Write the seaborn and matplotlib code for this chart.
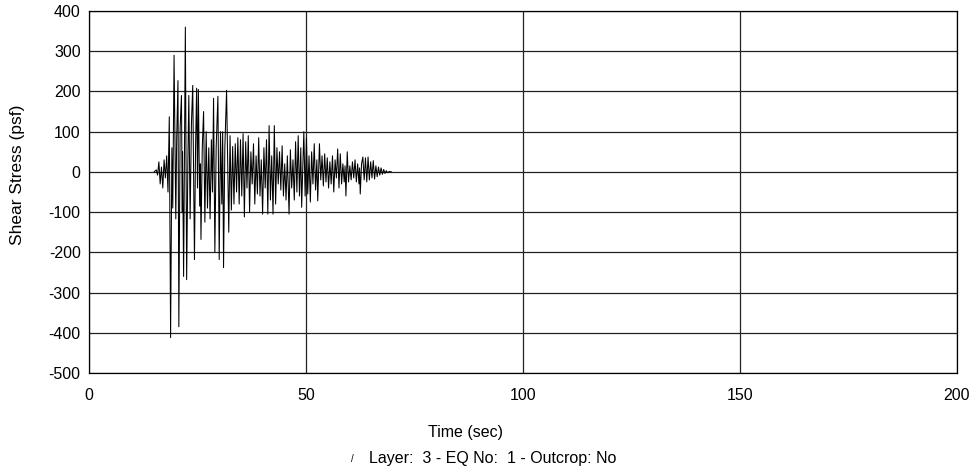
import pandas as pd
import matplotlib
matplotlib.use("Agg")
import matplotlib.pyplot as plt
import seaborn as sns

# historia de esfuerzo cortante (capa 3, sismo 1)
time_sec = [
    15.0, 15.5, 15.8, 16.1, 16.4, 16.7, 17.0, 17.3, 17.6, 17.9, 18.2, 18.5, 18.8,
    19.1, 19.3, 19.6, 20.0, 20.2, 20.5, 20.7, 21.0, 21.3, 21.5, 21.55, 21.8, 22.2,
    22.5, 22.8, 23.0, 23.3, 23.6, 23.9, 24.3, 24.55, 24.8, 25.0, 25.2, 25.5, 25.65,
    25.8, 26.1, 26.4, 26.7, 27.0, 27.3, 27.6, 27.9, 28.2, 28.45, 28.7, 29.0, 29.3,
    29.7, 30.0, 30.3, 30.6, 30.8, 31.0, 31.3, 31.7, 31.95, 32.2, 32.5, 32.8, 33.1,
    33.4, 33.7, 34.0, 34.3, 34.6, 34.9, 35.2, 35.5, 35.8, 36.1, 36.4, 36.7, 37.0,
    37.3, 37.6, 37.9, 38.2, 38.5, 38.8, 39.1, 39.4, 39.7, 40.0, 40.3, 40.6, 40.9,
    41.2, 41.5, 41.8, 42.1, 42.4, 42.7, 43.0, 43.3, 43.6, 43.9, 44.2, 44.5, 44.8,
    45.1, 45.4, 45.7, 46.1, 46.4, 46.7, 47.0, 47.3, 47.6, 47.9, 48.2, 48.5, 48.8,
    49.0, 49.5, 49.8, 50.1, 50.4, 50.7, 51.0, 51.3, 51.6, 51.9, 52.2, 52.5, 52.7,
    53.1, 53.4, 53.7, 54.0, 54.3, 54.6, 54.9, 55.2, 55.5, 55.8, 56.1, 56.4, 56.7,
    57.0, 57.3, 57.6, 57.9, 58.2, 58.5, 58.8, 59.0, 59.2, 59.5, 59.8, 60.1, 60.4,
    60.7, 61.0, 61.3, 61.6, 61.9, 62.2, 62.35, 62.5, 62.8, 63.1, 63.4, 63.7, 64.0,
    64.3, 64.6, 64.9, 65.2, 65.5, 65.8, 66.1, 66.4, 66.7, 67.0, 67.3, 67.6, 67.9,
    68.2, 68.5, 68.8, 69.2, 69.7,
]
shear_psf = [
    0, 5, -8, 25, -30, 12, -40, 30, -15, 40, -50, 137, -412,
    60, -90, 290, -117, 80, 227, -385, 110, 190, -100, 50, -260, 360,
    -268, 40, 190, -117, 120, 215, -218, 60, 208, -40, 205, -85, 20,
    -168, 60, 150, -125, 100, -90, 60, -117, 80, -50, 183, -200, 60,
    188, -218, 100, -80, 100, -238, 60, 203, 20, -150, 90, -95, 63,
    -80, 70, -50, 85, -80, 80, -60, 95, -112, 75, -40, 90, -100,
    50, -30, 70, -80, 40, -55, 85, -60, 30, -105, 60, -40, 80,
    -105, 115, -70, 40, -105, 115, -80, 60, -30, 50, -45, 65, -60,
    20, -70, 40, -105, 55, -40, 30, -70, 75, -50, 90, -60, 60,
    -88, 100, -60, 85, -55, 40, -75, 50, -30, 70, -45, 30, -72,
    70, -20, 40, -35, 45, -25, 35, -40, 25, -30, 40, -50, 30,
    -15, 57, -40, 45, -30, 20, -25, 15, -60, 50, -25, 15, -20,
    25, -15, 30, -25, 20, -30, 10, -55, 20, 37, -20, 35, -25,
    37, -20, 25, -15, 28, -18, 15, -12, 12, -8, 10, -6, 6,
    -4, 3, -2, 1, 0,
]

x_ticks = [0, 50, 100, 150, 200]
y_ticks = [400, 300, 200, 100, 0, -100, -200, -300, -400, -500]

df = pd.DataFrame({"Time (sec)": time_sec, "Shear Stress (psf)": shear_psf})

sns.set_style("white")
plt.rcParams["font.family"] = ["Liberation Sans", "DejaVu Sans"]
plt.rcParams["axes.unicode_minus"] = False
plt.rcParams["text.color"] = "black"
plt.rcParams["xtick.color"] = "black"
plt.rcParams["ytick.color"] = "black"

fig = plt.figure(figsize=(9.74, 4.69), dpi=100)
ax = fig.add_axes([89 / 974, 1 - 373 / 469, 868 / 974, 362 / 469])

sns.lineplot(data=df, x="Time (sec)", y="Shear Stress (psf)", estimator=None,
             color="black", linewidth=0.75, ax=ax)

ax.set_xlim(0, 200)
ax.set_ylim(-500, 400)
ax.set_xticks(x_ticks)
ax.set_yticks(y_ticks)
ax.grid(True, color="#222222", linewidth=0.9)
ax.set_axisbelow(True)
for s in ax.spines.values():
    s.set_color("black")
    s.set_linewidth(0.9)
ax.tick_params(axis="y", length=5, width=0.8, pad=1, labelsize=11.5)
ax.tick_params(axis="x", length=4, width=0.8, pad=7, labelsize=11.5)
ax.set_xlabel("")
ax.set_ylabel("")

fig.text(18 / 974, 1 - 175 / 469, "Shear Stress (psf)", rotation=90,
         ha="center", va="center", fontsize=12.5)
fig.text(466 / 974, 1 - 432 / 469, "Time (sec)", ha="center", va="center", fontsize=11.5)
fig.text(352 / 974, 1 - 459 / 469, "/", ha="center", va="center", fontsize=7)
fig.text(369 / 974, 1 - 458 / 469, "Layer:  3 - EQ No:  1 - Outcrop: No",
         ha="left", va="center", fontsize=11.5)

fig.savefig("out.png", dpi=100)
